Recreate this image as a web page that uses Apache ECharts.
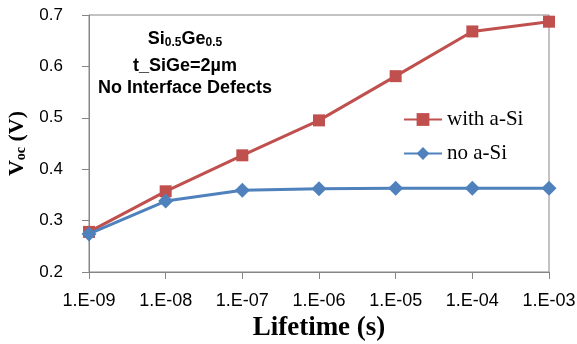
<!DOCTYPE html>
<html>
<head>
<meta charset="utf-8">
<script src="https://cdn.jsdelivr.net/npm/echarts@6/dist/echarts.min.js"></script>
<style>
  html, body { margin: 0; padding: 0; background: #fff; }
  #main { width: 577px; height: 344px; }
</style>
</head>
<body>
<div id="main"></div>
<script>
const lifetimes = ['1.E-09', '1.E-08', '1.E-07', '1.E-06', '1.E-05', '1.E-04', '1.E-03'];
const withASi = [0.278, 0.357, 0.427, 0.495, 0.581, 0.668, 0.687];
const noASi = [0.274, 0.338, 0.359, 0.362, 0.363, 0.363, 0.363];

const chart = echarts.init(document.getElementById('main'));
const axisGray = '#868686';

const option = {
  animation: false,
  grid: {
    left: 89, right: 28, top: 15, bottom: 72,
    outerBoundsMode: 'none',
    containLabel: false,
    show: true, borderColor: axisGray, borderWidth: 1
  },
  legend: {
    orient: 'vertical',
    left: 398, top: 104,
    itemWidth: 38, itemHeight: 16, itemGap: 13,
    textStyle: { fontFamily: 'Liberation Serif', fontSize: 21, color: '#000' },
    data: ['with a-Si', 'no a-Si']
  },
  xAxis: {
    type: 'category',
    data: lifetimes,
    boundaryGap: false,
    axisLine: { lineStyle: { color: axisGray } },
    axisTick: { length: 7, lineStyle: { color: axisGray } },
    axisLabel: { fontFamily: 'Liberation Sans', fontSize: 18, color: '#000', margin: 20 },
    name: 'Lifetime (s)',
    nameLocation: 'middle',
    nameGap: 43,
    nameTextStyle: { fontFamily: 'Liberation Serif', fontWeight: 'bold', fontSize: 27, color: '#000' }
  },
  yAxis: {
    type: 'value',
    min: 0.2, max: 0.7, interval: 0.1,
    splitLine: { show: false },
    axisLine: { show: true, lineStyle: { color: axisGray } },
    axisTick: { show: true, length: 7, lineStyle: { color: axisGray } },
    axisLabel: {
      fontFamily: 'Liberation Sans', fontSize: 17, color: '#000', margin: 26,
      formatter: v => v.toFixed(1)
    },
    name: '{b|V}{s|oc}{b| (V)}',
    nameLocation: 'middle',
    nameGap: 60,
    nameTextStyle: {
      rich: {
        b: { fontFamily: 'Liberation Serif', fontWeight: 'bold', fontSize: 22, color: '#000' },
        s: { fontFamily: 'Liberation Serif', fontWeight: 'bold', fontSize: 14, color: '#000', verticalAlign: 'bottom', padding: [9, 0, 0, 0] }
      }
    }
  },
  graphic: [
    {
      type: 'text',
      style: {
        x: 185, y: 29, align: 'center',
        text: '{b|Si}{s|0.5}{b|Ge}{s|0.5}',
        rich: {
          b: { fontFamily: 'Liberation Sans', fontWeight: 'bold', fontSize: 18, fill: '#000' },
          s: { fontFamily: 'Liberation Sans', fontWeight: 'bold', fontSize: 12, fill: '#000', padding: [8, 0, 0, 0] }
        }
      }
    },
    {
      type: 'text',
      style: {
        x: 185, y: 57, align: 'center',
        text: 't_SiGe=2\u00b5m',
        font: 'bold 18px "Liberation Sans"', fill: '#000'
      }
    },
    {
      type: 'text',
      style: {
        x: 185, y: 79, align: 'center',
        text: 'No Interface Defects',
        font: 'bold 18px "Liberation Sans"', fill: '#000'
      }
    }
  ],
  series: [
    {
      name: 'with a-Si',
      type: 'line',
      data: withASi,
      symbol: 'rect',
      symbolSize: 12,
      lineStyle: { color: '#C0504D', width: 3 },
      itemStyle: { color: '#C0504D' },
      z: 2
    },
    {
      name: 'no a-Si',
      type: 'line',
      data: noASi,
      symbol: 'diamond',
      symbolSize: 15,
      lineStyle: { color: '#4F81BD', width: 3 },
      itemStyle: { color: '#4F81BD' },
      z: 3
    }
  ]
};

chart.setOption(option);
</script>
</body>
</html>
